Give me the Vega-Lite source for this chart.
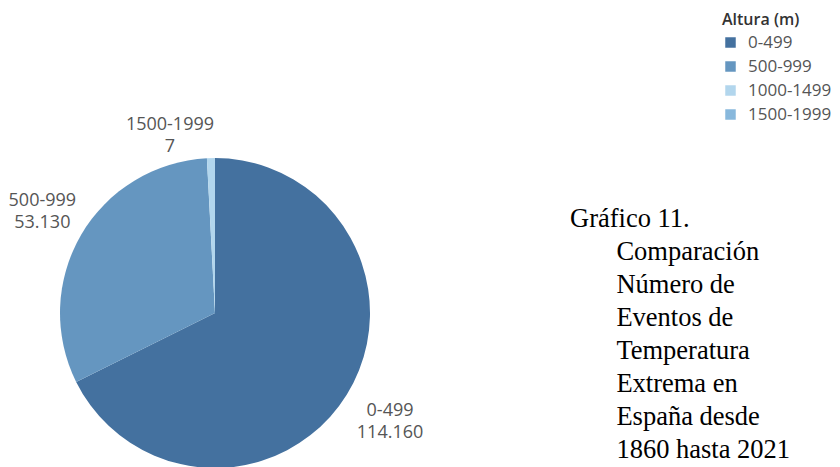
{
  "$schema": "https://vega.github.io/schema/vega-lite/v6.json",
  "width": 430,
  "height": 468,
  "autosize": {"type": "none"},
  "padding": {"left": 0, "top": 79, "right": 410, "bottom": -80},
  "background": "white",
  "config": {
    "view": {"stroke": null},
    "locale": {"number": {"decimal": ",", "thousands": ".", "grouping": [3], "currency": ["", " €"]}}
  },
  "title": {
    "text": [
      "Gráfico 11.",
      "\u200b\u00a0\u00a0\u00a0\u00a0\u00a0\u00a0\u00a0Comparación",
      "\u200b\u00a0\u00a0\u00a0\u00a0\u00a0\u00a0\u00a0Número de",
      "\u200b\u00a0\u00a0\u00a0\u00a0\u00a0\u00a0\u00a0Eventos de",
      "\u200b\u00a0\u00a0\u00a0\u00a0\u00a0\u00a0\u00a0Temperatura",
      "\u200b\u00a0\u00a0\u00a0\u00a0\u00a0\u00a0\u00a0Extrema en",
      "\u200b\u00a0\u00a0\u00a0\u00a0\u00a0\u00a0\u00a0España desde",
      "\u200b\u00a0\u00a0\u00a0\u00a0\u00a0\u00a0\u00a01860 hasta 2021"
    ],
    "orient": "top",
    "anchor": "start",
    "frame": "group",
    "font": "Liberation Serif",
    "fontSize": 26.5,
    "fontWeight": "normal",
    "lineHeight": 33,
    "color": "#000000",
    "baseline": "alphabetic",
    "dx": 570,
    "dy": 476
  },
  "data": {
    "values": [
      {"altura": "0-499", "eventos": 114160},
      {"altura": "500-999", "eventos": 53130},
      {"altura": "1000-1499", "eventos": 1400},
      {"altura": "1500-1999", "eventos": 7}
    ]
  },
  "encoding": {
    "theta": {"field": "eventos", "type": "quantitative", "stack": true},
    "order": {"field": "eventos", "type": "quantitative", "sort": "descending"}
  },
  "layer": [
    {
      "mark": {"type": "arc", "radius": 155},
      "encoding": {
        "color": {
          "field": "altura",
          "type": "nominal",
          "sort": ["0-499", "500-999", "1000-1499", "1500-1999"],
          "scale": {
            "domain": ["0-499", "500-999", "1000-1499", "1500-1999"],
            "range": ["#44719f", "#6596c0", "#b2d6ed", "#88b8dc"]
          },
          "legend": {
            "title": "Altura (m)",
            "orient": "none",
            "legendX": 722,
            "legendY": -67,
            "titleFont": "Open Sans",
            "titleFontSize": 16,
            "titleFontWeight": 600,
            "titleColor": "#333333",
            "titlePadding": 6,
            "labelFont": "Open Sans",
            "labelFontSize": 17,
            "labelColor": "#555555",
            "symbolType": "square",
            "symbolSize": 110,
            "symbolStrokeWidth": 0,
            "symbolOpacity": 1,
            "rowPadding": 6,
            "labelOffset": 9
          }
        }
      }
    },
    {
      "mark": {
        "type": "text",
        "font": "Open Sans",
        "fontSize": 18,
        "color": "#555555",
        "dy": -11,
        "radius": {"expr": "datum.altura === '1500-1999' ? 177 : datum.altura === '0-499' ? 206 : 200"},
        "dx": {"expr": "datum.altura === '1500-1999' ? -45 : 0"}
      },
      "encoding": {
        "text": {
          "condition": {"test": "datum.altura === '1000-1499'", "value": ""},
          "field": "altura",
          "type": "nominal"
        }
      }
    },
    {
      "mark": {
        "type": "text",
        "font": "Open Sans",
        "fontSize": 18,
        "color": "#555555",
        "dy": 11,
        "radius": {"expr": "datum.altura === '1500-1999' ? 177 : datum.altura === '0-499' ? 206 : 200"},
        "dx": {"expr": "datum.altura === '1500-1999' ? -45 : 0"}
      },
      "encoding": {
        "text": {
          "condition": {"test": "datum.altura === '1000-1499'", "value": ""},
          "field": "eventos",
          "type": "quantitative",
          "format": ",d"
        }
      }
    }
  ]
}
